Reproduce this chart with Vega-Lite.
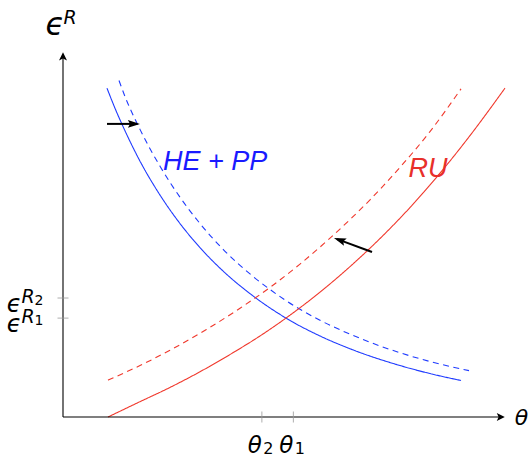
{
  "$schema": "https://vega.github.io/schema/vega-lite/v6.json",
  "width": 442,
  "height": 365,
  "autosize": {"type": "none"},
  "padding": {"left": 63, "top": 52, "right": 25, "bottom": 41},
  "background": "white",
  "config": {"view": {"stroke": null}},
  "datasets": {
    "curves": [
      {"s": "HE+PP", "x": 0.995, "y": 9.01},
      {"s": "HE+PP", "x": 1.176, "y": 8.46},
      {"s": "HE+PP", "x": 1.403, "y": 7.84},
      {"s": "HE+PP", "x": 1.742, "y": 7.01},
      {"s": "HE+PP", "x": 2.195, "y": 6.08},
      {"s": "HE+PP", "x": 2.647, "y": 5.30},
      {"s": "HE+PP", "x": 3.100, "y": 4.64},
      {"s": "HE+PP", "x": 3.665, "y": 3.95},
      {"s": "HE+PP", "x": 4.231, "y": 3.38},
      {"s": "HE+PP", "x": 5.045, "y": 2.71},
      {"s": "HE+PP", "x": 5.814, "y": 2.22},
      {"s": "HE+PP", "x": 6.493, "y": 1.87},
      {"s": "HE+PP", "x": 7.624, "y": 1.41},
      {"s": "HE+PP", "x": 8.303, "y": 1.19},
      {"s": "HE+PP", "x": 9.005, "y": 1.00},
      {"s": "HE+PP new", "x": 1.267, "y": 9.22},
      {"s": "HE+PP new", "x": 1.403, "y": 8.78},
      {"s": "HE+PP new", "x": 1.742, "y": 7.88},
      {"s": "HE+PP new", "x": 2.195, "y": 6.87},
      {"s": "HE+PP new", "x": 2.647, "y": 6.02},
      {"s": "HE+PP new", "x": 3.100, "y": 5.30},
      {"s": "HE+PP new", "x": 3.665, "y": 4.54},
      {"s": "HE+PP new", "x": 4.231, "y": 3.92},
      {"s": "HE+PP new", "x": 5.045, "y": 3.19},
      {"s": "HE+PP new", "x": 5.814, "y": 2.65},
      {"s": "HE+PP new", "x": 6.493, "y": 2.27},
      {"s": "HE+PP new", "x": 7.624, "y": 1.76},
      {"s": "HE+PP new", "x": 8.303, "y": 1.52},
      {"s": "HE+PP new", "x": 9.186, "y": 1.27},
      {"s": "RU", "x": 1.018, "y": 0.00},
      {"s": "RU", "x": 1.742, "y": 0.42},
      {"s": "RU", "x": 2.421, "y": 0.81},
      {"s": "RU", "x": 3.100, "y": 1.24},
      {"s": "RU", "x": 3.914, "y": 1.81},
      {"s": "RU", "x": 4.457, "y": 2.22},
      {"s": "RU", "x": 5.045, "y": 2.71},
      {"s": "RU", "x": 5.814, "y": 3.42},
      {"s": "RU", "x": 6.493, "y": 4.12},
      {"s": "RU", "x": 7.172, "y": 4.89},
      {"s": "RU", "x": 7.851, "y": 5.74},
      {"s": "RU", "x": 8.529, "y": 6.68},
      {"s": "RU", "x": 9.208, "y": 7.71},
      {"s": "RU", "x": 10.0, "y": 9.01},
      {"s": "RU new", "x": 1.018, "y": 1.01},
      {"s": "RU new", "x": 1.742, "y": 1.41},
      {"s": "RU new", "x": 2.421, "y": 1.83},
      {"s": "RU new", "x": 3.235, "y": 2.39},
      {"s": "RU new", "x": 4.005, "y": 2.98},
      {"s": "RU new", "x": 4.683, "y": 3.55},
      {"s": "RU new", "x": 5.362, "y": 4.19},
      {"s": "RU new", "x": 6.041, "y": 4.90},
      {"s": "RU new", "x": 6.493, "y": 5.41},
      {"s": "RU new", "x": 6.946, "y": 5.95},
      {"s": "RU new", "x": 7.624, "y": 6.84},
      {"s": "RU new", "x": 8.303, "y": 7.82},
      {"s": "RU new", "x": 9.005, "y": 8.99}
    ],
    "arrows": [
      {"x": 0.995, "y": 8.03, "x2": 1.667, "y2": 8.03},
      {"x": 6.991, "y": 4.52, "x2": 6.201, "y2": 4.874}
    ],
    "xticks": [{"x": 4.50, "g": "θ", "sub": "2"}, {"x": 5.21, "g": "θ", "sub": "1"}],
    "yticks": [{"y": 3.26, "g": "ϵ", "sup": "R", "sub": "2"}, {"y": 2.71, "g": "ϵ", "sup": "R", "sub": "1"}]
  },
  "layer": [
    {
      "data": {"name": "curves"},
      "mark": {"type": "line", "strokeWidth": 1.1, "clip": false, "interpolate": "monotone"},
      "encoding": {
        "x": {"field": "x", "type": "quantitative", "scale": {"domain": [0, 10], "nice": false, "zero": false}, "axis": null},
        "y": {"field": "y", "type": "quantitative", "scale": {"domain": [0, 10], "nice": false, "zero": false}, "axis": null},
        "color": {"field": "s", "type": "nominal", "scale": {"domain": ["HE+PP", "HE+PP new", "RU", "RU new"], "range": ["#1f3bff", "#1f3bff", "#f0382c", "#f0382c"]}, "legend": null},
        "strokeDash": {"field": "s", "type": "nominal", "scale": {"domain": ["HE+PP", "HE+PP new", "RU", "RU new"], "range": [[1, 0], [6, 4.5], [1, 0], [6, 4.5]]}, "legend": null}
      }
    },
    {
      "data": {"values": [{}]},
      "mark": {"type": "rule", "color": "black", "strokeWidth": 1.1},
      "encoding": {"x": {"datum": 0}, "y": {"datum": 0}, "y2": {"datum": 9.93}}
    },
    {
      "data": {"values": [{}]},
      "mark": {"type": "rule", "color": "black", "strokeWidth": 1.1},
      "encoding": {"x": {"datum": 0}, "x2": {"datum": 9.946}, "y": {"datum": 0}}
    },
    {
      "data": {"values": [{}]},
      "mark": {"type": "point", "shape": "M0.3,0L-0.8,-0.55L-0.55,0L-0.8,0.55Z", "size": 213, "filled": true, "color": "black", "opacity": 1, "angle": 270},
      "encoding": {"x": {"datum": 0}, "y": {"datum": 9.93}}
    },
    {
      "data": {"values": [{}]},
      "mark": {"type": "point", "shape": "M0.3,0L-0.8,-0.55L-0.55,0L-0.8,0.55Z", "size": 213, "filled": true, "color": "black", "opacity": 1, "angle": 0},
      "encoding": {"x": {"datum": 9.946}, "y": {"datum": 0}}
    },
    {
      "data": {"name": "arrows"},
      "mark": {"type": "rule", "color": "black", "strokeWidth": 2},
      "encoding": {
        "x": {"field": "x", "type": "quantitative"},
        "y": {"field": "y", "type": "quantitative"},
        "x2": {"field": "x2"},
        "y2": {"field": "y2"}
      }
    },
    {
      "data": {"values": [{}]},
      "mark": {"type": "point", "shape": "M0.3,0L-0.8,-0.36L-0.6,0L-0.8,0.36Z", "size": 484, "filled": true, "color": "black", "opacity": 1, "angle": 0},
      "encoding": {"x": {"datum": 1.667}, "y": {"datum": 8.03}}
    },
    {
      "data": {"values": [{}]},
      "mark": {"type": "point", "shape": "M0.3,0L-0.8,-0.36L-0.6,0L-0.8,0.36Z", "size": 484, "filled": true, "color": "black", "opacity": 1, "angle": 200.3},
      "encoding": {"x": {"datum": 6.201}, "y": {"datum": 4.874}}
    },
    {
      "data": {"name": "xticks"},
      "mark": {"type": "tick", "orient": "vertical", "size": 11, "thickness": 0.8, "color": "#999999", "opacity": 1},
      "encoding": {"x": {"field": "x", "type": "quantitative"}, "y": {"datum": 0}}
    },
    {
      "data": {"name": "yticks"},
      "mark": {"type": "tick", "orient": "horizontal", "size": 11, "thickness": 0.8, "color": "#999999", "opacity": 1},
      "encoding": {"y": {"field": "y", "type": "quantitative"}, "x": {"datum": 0}}
    },
    {
      "data": {"name": "xticks"},
      "mark": {"type": "text", "font": "DejaVu Sans", "fontStyle": "italic", "fontSize": 23, "align": "center", "baseline": "alphabetic", "dx": -7, "dy": 36, "color": "black"},
      "encoding": {"x": {"field": "x", "type": "quantitative"}, "y": {"datum": 0}, "text": {"field": "g"}}
    },
    {
      "data": {"name": "xticks"},
      "mark": {"type": "text", "font": "DejaVu Sans", "fontSize": 16, "align": "center", "baseline": "alphabetic", "dx": 6.5, "dy": 37, "color": "black"},
      "encoding": {"x": {"field": "x", "type": "quantitative"}, "y": {"datum": 0}, "text": {"field": "sub"}}
    },
    {
      "data": {"name": "yticks"},
      "mark": {"type": "text", "font": "DejaVu Sans", "fontStyle": "italic", "fontSize": 24, "align": "center", "baseline": "alphabetic", "dx": -49, "dy": 13.5, "color": "black"},
      "encoding": {"y": {"field": "y", "type": "quantitative"}, "x": {"datum": 0}, "text": {"field": "g"}}
    },
    {
      "data": {"name": "yticks"},
      "mark": {"type": "text", "font": "DejaVu Sans", "fontStyle": "italic", "fontSize": 19, "align": "center", "baseline": "alphabetic", "dx": -35, "dy": 5, "color": "black"},
      "encoding": {"y": {"field": "y", "type": "quantitative"}, "x": {"datum": 0}, "text": {"field": "sup"}}
    },
    {
      "data": {"name": "yticks"},
      "mark": {"type": "text", "font": "DejaVu Sans", "fontSize": 14, "align": "center", "baseline": "alphabetic", "dx": -24, "dy": 6.5, "color": "black"},
      "encoding": {"y": {"field": "y", "type": "quantitative"}, "x": {"datum": 0}, "text": {"field": "sub"}}
    },
    {
      "data": {"values": [{}]},
      "mark": {"type": "text", "text": "ϵ", "font": "DejaVu Sans", "fontStyle": "italic", "fontSize": 31, "align": "center", "baseline": "alphabetic", "dx": -8, "dy": -17, "color": "black"},
      "encoding": {"x": {"datum": 0}, "y": {"datum": 10}}
    },
    {
      "data": {"values": [{}]},
      "mark": {"type": "text", "text": "R", "font": "DejaVu Sans", "fontStyle": "italic", "fontSize": 19, "align": "center", "baseline": "alphabetic", "dx": 7, "dy": -28, "color": "black"},
      "encoding": {"x": {"datum": 0}, "y": {"datum": 10}}
    },
    {
      "data": {"values": [{}]},
      "mark": {"type": "text", "text": "θ", "font": "DejaVu Sans", "fontStyle": "italic", "fontSize": 22, "align": "center", "baseline": "alphabetic", "dx": 16.5, "dy": 8, "color": "black"},
      "encoding": {"x": {"datum": 10}, "y": {"datum": 0}}
    },
    {
      "data": {"values": [{}]},
      "mark": {"type": "text", "text": "HE + PP", "font": "Liberation Sans", "fontStyle": "italic", "fontSize": 27, "align": "center", "baseline": "alphabetic", "color": "#1a1aff"},
      "encoding": {"x": {"datum": 3.44}, "y": {"datum": 6.77}}
    },
    {
      "data": {"values": [{}]},
      "mark": {"type": "text", "text": "RU", "font": "Liberation Sans", "fontStyle": "italic", "fontSize": 27, "align": "center", "baseline": "alphabetic", "color": "#e8302a"},
      "encoding": {"x": {"datum": 8.26}, "y": {"datum": 6.58}}
    }
  ]
}
